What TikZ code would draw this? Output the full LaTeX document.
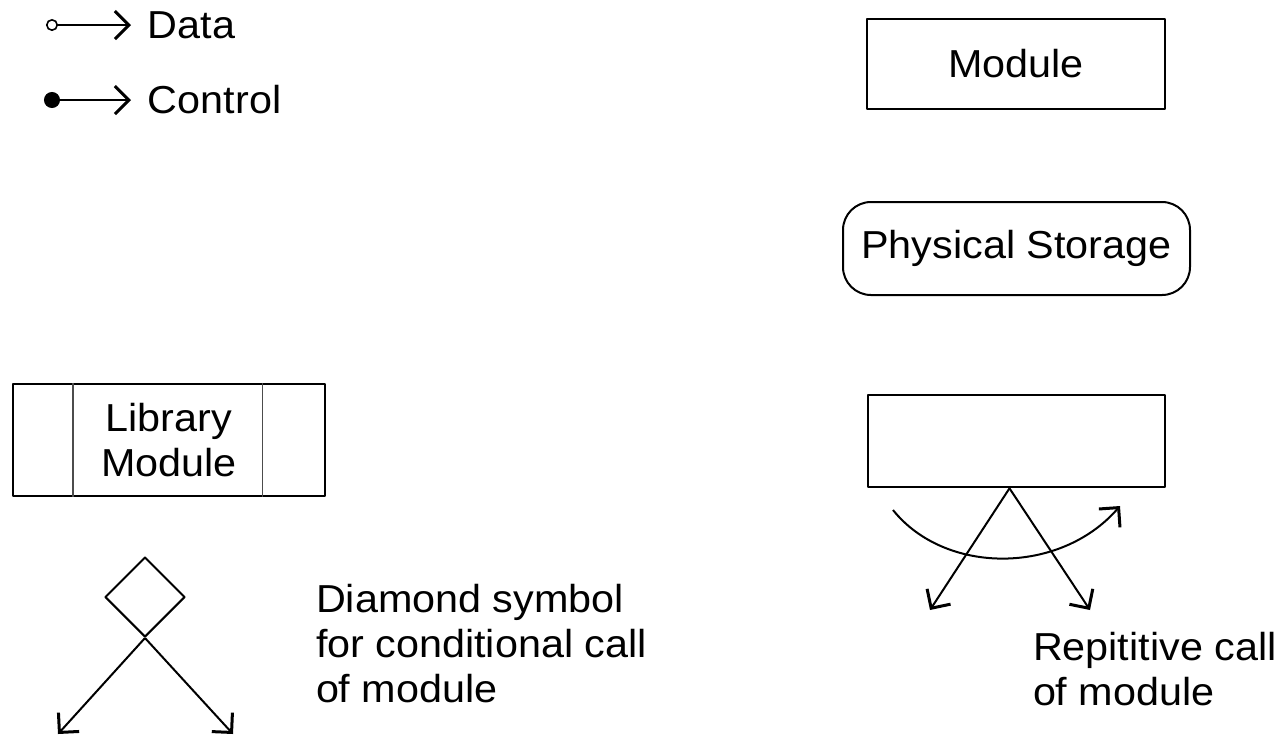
\documentclass[tikz,border=0pt]{standalone}
\usepackage{fontspec}
\setmainfont{Liberation Sans}[FakeStretch=1.06]
\usetikzlibrary{shapes.geometric,arrows.meta}

\begin{document}
\begin{tikzpicture}[x=0.5pt,y=-0.5pt,line join=round,line width=1pt,
  font=\fontsize{19.5}{22.5}\selectfont,
  >={Straight Barb[length=7pt,width=14pt,line width=1.5pt]},
  box/.style={draw,line width=1.3pt,inner sep=0pt},
  lbl/.style={inner sep=0pt,align=left,anchor=north west}]
\useasboundingbox (0,0) rectangle (1282,736);
% legend
\node[anchor=west,inner sep=0pt] (data) at (147,25) {Data};
\node[anchor=west,inner sep=0pt] (ctrl) at (147,100) {Control};
\coordinate (d0) at (46,25);
\coordinate (c0) at (44,100);
\draw[{Circle[open,length=6pt,line width=0.8pt]}->] (d0) -- ([xshift=-8pt]data.west);
\draw[{Circle[length=8pt]}->] (c0) -- ([xshift=-8pt]ctrl.west);
% module and storage
\node[box,minimum width=149pt,minimum height=45pt] (mod) at (1016,64) {Module};
\node[box,line width=1pt,rounded corners=14pt,minimum width=173.5pt,minimum height=46.5pt] (store) at (1016.5,248.5) {Physical Storage};
% library module
\node[box,minimum width=156pt,minimum height=56pt,align=center] (lib) at (169,440) {Library\\Module};
\draw[gray!60!black,line width=0.8pt] ([xshift=30.5pt]lib.north west) -- ([xshift=30.5pt]lib.south west);
\draw[gray!60!black,line width=0.8pt] ([xshift=-32pt]lib.north east) -- ([xshift=-32pt]lib.south east);
% conditional call
\node[draw,diamond,minimum width=40pt,minimum height=40pt,inner sep=0pt] (cond) at (145,597) {};
\coordinate (cl) at (58,734);
\coordinate (cr) at (233,734);
\draw[->] (cond.south) -- (cl);
\draw[->] (cond.south) -- (cr);
\node[lbl] (condtext) at (315,583) {Diamond symbol\\for conditional call\\of module};
% repetitive call
\node[box,minimum width=148.5pt,minimum height=46pt] (rep) at (1016.5,441) {};
\path (rep.south) ++(-7,0) coordinate (apex);
\coordinate (rl) at (930,610);
\coordinate (rr) at (1090,610);
\draw[->] (apex) -- (rl);
\draw[->] (apex) -- (rr);
\coordinate (loopa) at (893,510);
\coordinate (loopb) at (1120,506);
\draw[->] (loopa) .. controls (945,575) and (1060,575) .. (loopb);
\node[lbl] (reptext) at (1032,631) {Repititive call\\of module};
\end{tikzpicture}
\end{document}
